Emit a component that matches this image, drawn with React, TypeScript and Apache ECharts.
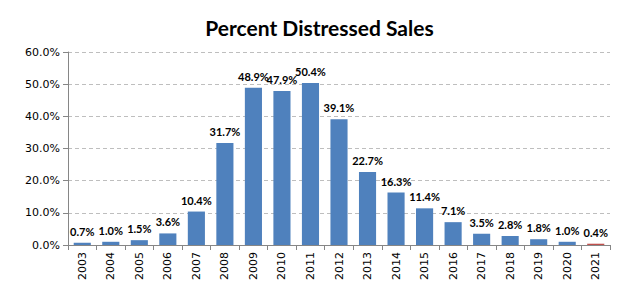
import React, { useEffect, useRef } from "react";
import * as echarts from "echarts";

const years = ["2003","2004","2005","2006","2007","2008","2009","2010","2011","2012","2013","2014","2015","2016","2017","2018","2019","2020","2021"];
const distressedPct = [0.7,1.0,1.5,3.6,10.4,31.7,48.9,47.9,50.4,39.1,22.7,16.3,11.4,7.1,3.5,2.8,1.8,1.0,0.4];
const yTicks = [0, 10, 20, 30, 40, 50, 60];

const BLUE = "#4F81BD";
const RED = "#C0504D";

export default function App() {
  const ref = useRef<HTMLDivElement>(null);
  useEffect(() => {
    if (!ref.current) return;
    const chart = echarts.init(ref.current, undefined, { renderer: "svg" });
    const last = distressedPct.length - 1;
    chart.setOption({
      animation: false,
      backgroundColor: "#ffffff",
      title: {
        text: "Percent Distressed Sales",
        left: "center",
        top: 12,
        textStyle: { fontFamily: "Lato", fontWeight: "bold", fontSize: 21, color: "#000" },
      },
      grid: { left: 68, right: 29, top: 52, bottom: 48 },
      xAxis: {
        type: "category",
        data: years,
        axisLine: { lineStyle: { color: "#868686" } },
        axisTick: { show: true, alignWithLabel: false, length: 5, lineStyle: { color: "#868686" } },
        axisLabel: {
          rotate: 90,
          fontFamily: "DejaVu Sans",
          fontSize: 11,
          color: "#000",
          margin: 7,
        },
      },
      yAxis: {
        type: "value",
        min: yTicks[0],
        max: yTicks[yTicks.length - 1],
        interval: 10,
        axisLine: { show: true, lineStyle: { color: "#868686" } },
        axisTick: { show: true, length: 5, lineStyle: { color: "#868686" } },
        splitLine: { lineStyle: { color: "#BEBEBE", type: [4, 3] } },
        axisLabel: {
          formatter: (v: number) => v.toFixed(1) + "%",
          fontFamily: "DejaVu Sans",
          fontSize: 11,
          color: "#000",
          margin: 8,
        },
      },
      series: [
        {
          type: "bar",
          barWidth: "60%",
          data: distressedPct.map((v, i) => ({
            value: v,
            itemStyle: { color: i === last ? RED : BLUE },
          })),
          label: {
            show: true,
            position: "top",
            distance: 6,
            formatter: (p: any) => p.value.toFixed(1) + "%",
            fontFamily: "Lato",
            fontWeight: "bold",
            fontSize: 11,
            color: "#000",
          },
        },
      ],
    });
    return () => chart.dispose();
  }, []);
  return <div ref={ref} style={{ width: 639, height: 293, position: "absolute", left: 0, top: 0 }} />;
}
